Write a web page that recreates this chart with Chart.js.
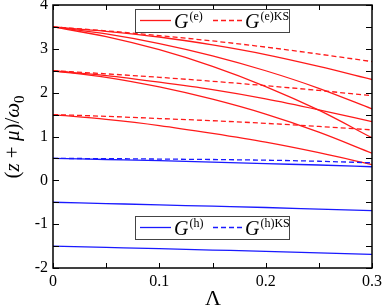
<!DOCTYPE html>
<html>
<head>
<meta charset="utf-8">
<script src="https://cdn.jsdelivr.net/npm/chart.js@4.4.1/dist/chart.umd.min.js"></script>
<style>
  html, body { margin: 0; padding: 0; background: #fff; }
  canvas { display: block; }
</style>
</head>
<body>
<canvas id="chart_poles" width="382" height="305"></canvas>
<script>
// Lambda grid (x axis)
const lambda = [0, 0.05, 0.1, 0.15, 0.2, 0.25, 0.3];

// electron poles G(e), red solid
const e35a = [3.5, 3.40, 3.27, 3.09, 2.87, 2.60, 2.30];
const e35b = [3.5, 3.34, 3.12, 2.84, 2.50, 2.10, 1.63];
const e35c = [3.5, 3.28, 2.98, 2.60, 2.14, 1.60, 0.97];
const e25a = [2.5, 2.39, 2.24, 2.07, 1.86, 1.61, 1.34];
const e25b = [2.5, 2.35, 2.13, 1.85, 1.51, 1.10, 0.62];
const e15a = [1.5, 1.39, 1.25, 1.07, 0.87, 0.63, 0.36];

// G(e)KS, red dashed
const eks35 = [3.5, 3.41, 3.30, 3.18, 3.04, 2.88, 2.71];
const eks25 = [2.5, 2.43, 2.35, 2.26, 2.16, 2.05, 1.93];
const eks15 = [1.5, 1.46, 1.41, 1.36, 1.30, 1.23, 1.15];

// hole poles G(h), blue solid
const h05 = [0.5, 0.475, 0.45, 0.415, 0.38, 0.35, 0.31];
const hm05 = [-0.5, -0.53, -0.56, -0.59, -0.62, -0.655, -0.69];
const hm15 = [-1.5, -1.53, -1.56, -1.59, -1.62, -1.655, -1.69];

// G(h)KS, blue dashed
const hks05 = [0.5, 0.495, 0.485, 0.475, 0.46, 0.435, 0.40];

const yTicks = [-2, -1, 0, 1, 2, 3, 4];
const xTicks = [0, 0.1, 0.2, 0.3];

const RED = '#ff1a1a';
const BLUE = '#1a1aff';
const SERIF = '"Liberation Serif", "DejaVu Serif", serif';

const mk = (label, ys, color, dashed) => ({
  label,
  data: ys.map((y, i) => ({ x: lambda[i], y })),
  borderColor: color,
  borderWidth: 1.3,
  borderDash: dashed ? [5, 3] : [],
  pointRadius: 0,
  fill: false,
  cubicInterpolationMode: 'monotone'
});

const datasets = [
  mk('h -1.5', hm15, BLUE, false),
  mk('h -0.5', hm05, BLUE, false),
  mk('hKS 0.5', hks05, BLUE, true),
  mk('h 0.5', h05, BLUE, false),
  mk('eKS 3.5', eks35, RED, true),
  mk('eKS 2.5', eks25, RED, true),
  mk('eKS 1.5', eks15, RED, true),
  mk('e 3.5a', e35a, RED, false),
  mk('e 3.5b', e35b, RED, false),
  mk('e 3.5c', e35c, RED, false),
  mk('e 2.5a', e25a, RED, false),
  mk('e 2.5b', e25b, RED, false),
  mk('e 1.5', e15a, RED, false)
];

// G with superscript, like the original legend
const drawG = (ctx, x, y, sup) => {
  ctx.fillStyle = '#000';
  ctx.textBaseline = 'alphabetic';
  ctx.textAlign = 'left';
  ctx.font = 'italic 20px ' + SERIF;
  ctx.fillText('G', x, y);
  const w = ctx.measureText('G').width;
  ctx.font = '12px ' + SERIF;
  ctx.fillText(sup, x + w + 1, y - 8);
};

const drawLegend = (ctx, box, color, sup1, sup2) => {
  ctx.save();
  ctx.fillStyle = '#fff';
  ctx.fillRect(box.x, box.y, box.w, box.h);
  ctx.strokeStyle = '#444';
  ctx.lineWidth = 1;
  ctx.strokeRect(box.x + 0.5, box.y + 0.5, box.w, box.h);
  const ly = box.y + box.h / 2;
  ctx.strokeStyle = color;
  ctx.lineWidth = 1.3;
  ctx.beginPath();
  ctx.moveTo(box.x + 5, ly);
  ctx.lineTo(box.x + 36, ly);
  ctx.stroke();
  ctx.setLineDash([5, 3]);
  ctx.beginPath();
  ctx.moveTo(box.x + 78, ly);
  ctx.lineTo(box.x + 108, ly);
  ctx.stroke();
  ctx.setLineDash([]);
  drawG(ctx, box.x + 39, box.y + 19, sup1);
  drawG(ctx, box.x + 110, box.y + 19, sup2);
  ctx.restore();
};

const framePlugin = {
  id: 'frame',
  afterDraw(chart) {
    const { ctx, chartArea: a, scales } = chart;
    ctx.save();
    // inward ticks on all four sides
    ctx.strokeStyle = '#000';
    ctx.lineWidth = 1;
    ctx.beginPath();
    for (let v = 0; v <= 0.3001; v += 0.05) {
      const px = Math.round(scales.x.getPixelForValue(v)) + 0.5;
      ctx.moveTo(px, a.bottom); ctx.lineTo(px, a.bottom - 5);
      ctx.moveTo(px, a.top); ctx.lineTo(px, a.top + 5);
    }
    for (let v = -2; v <= 4.001; v += 0.5) {
      const py = Math.round(scales.y.getPixelForValue(v)) + 0.5;
      ctx.moveTo(a.left, py); ctx.lineTo(a.left + 6, py);
      ctx.moveTo(a.right, py); ctx.lineTo(a.right - 6, py);
    }
    ctx.stroke();
    ctx.lineWidth = 1.5;
    ctx.strokeRect(a.left, a.top, a.right - a.left, a.bottom - a.top);

    // legends
    drawLegend(ctx, { x: 135, y: 9, w: 154, h: 23 }, RED, '(e)', '(e)KS');
    drawLegend(ctx, { x: 135, y: 216, w: 154, h: 23 }, BLUE, '(h)', '(h)KS');

    // axis titles
    ctx.fillStyle = '#000';
    ctx.textAlign = 'center';
    ctx.textBaseline = 'alphabetic';
    ctx.font = '22px ' + SERIF;
    ctx.fillText('Λ', 213, 305);

    ctx.translate(19, 137);
    ctx.rotate(-Math.PI / 2);
    const parts = [
      ['(', 'normal 21px', 0], ['z', 'italic 21px', 0], [' + ', 'normal 21px', 0],
      ['μ', 'italic 21px', 0], [')/', 'normal 21px', 0], ['ω', 'italic 21px', 0],
      ['0', 'normal 15px', 5]
    ];
    let total = 0;
    parts.forEach(p => { ctx.font = p[1] + ' ' + SERIF; total += ctx.measureText(p[0]).width; });
    let cx = -total / 2;
    ctx.textAlign = 'left';
    parts.forEach(p => {
      ctx.font = p[1] + ' ' + SERIF;
      ctx.fillText(p[0], cx, p[2]);
      cx += ctx.measureText(p[0]).width;
    });
    ctx.restore();
  }
};

new Chart(document.getElementById('chart_poles').getContext('2d'), {
  type: 'line',
  data: { datasets },
  options: {
    responsive: false,
    animation: false,
    devicePixelRatio: 1,
    layout: { padding: { top: 5, right: 10, left: 0, bottom: 0 } },
    plugins: { legend: { display: false }, tooltip: { enabled: false } },
    scales: {
      x: {
        type: 'linear',
        min: 0,
        max: 0.3,
        grid: { display: false, drawTicks: false },
        border: { display: false },
        afterBuildTicks: (s) => { s.ticks = xTicks.map(v => ({ value: v })); },
        ticks: {
          color: '#000',
          padding: 4,
          maxRotation: 0,
          font: { family: SERIF, size: 16 },
          callback: (v) => (v === 0 ? '0' : v.toFixed(1))
        },
        afterFit: (s) => { s.height = 37; s.paddingLeft = 0; s.paddingRight = 0; }
      },
      y: {
        min: -2,
        max: 4,
        grid: { display: false, drawTicks: false },
        border: { display: false },
        afterBuildTicks: (s) => { s.ticks = yTicks.map(v => ({ value: v })); },
        ticks: {
          color: '#000',
          padding: 5,
          font: { family: SERIF, size: 16 }
        },
        afterFit: (s) => { s.width = 53; s.paddingTop = 0; s.paddingBottom = 0; }
      }
    }
  },
  plugins: [framePlugin]
});
</script>
</body>
</html>
